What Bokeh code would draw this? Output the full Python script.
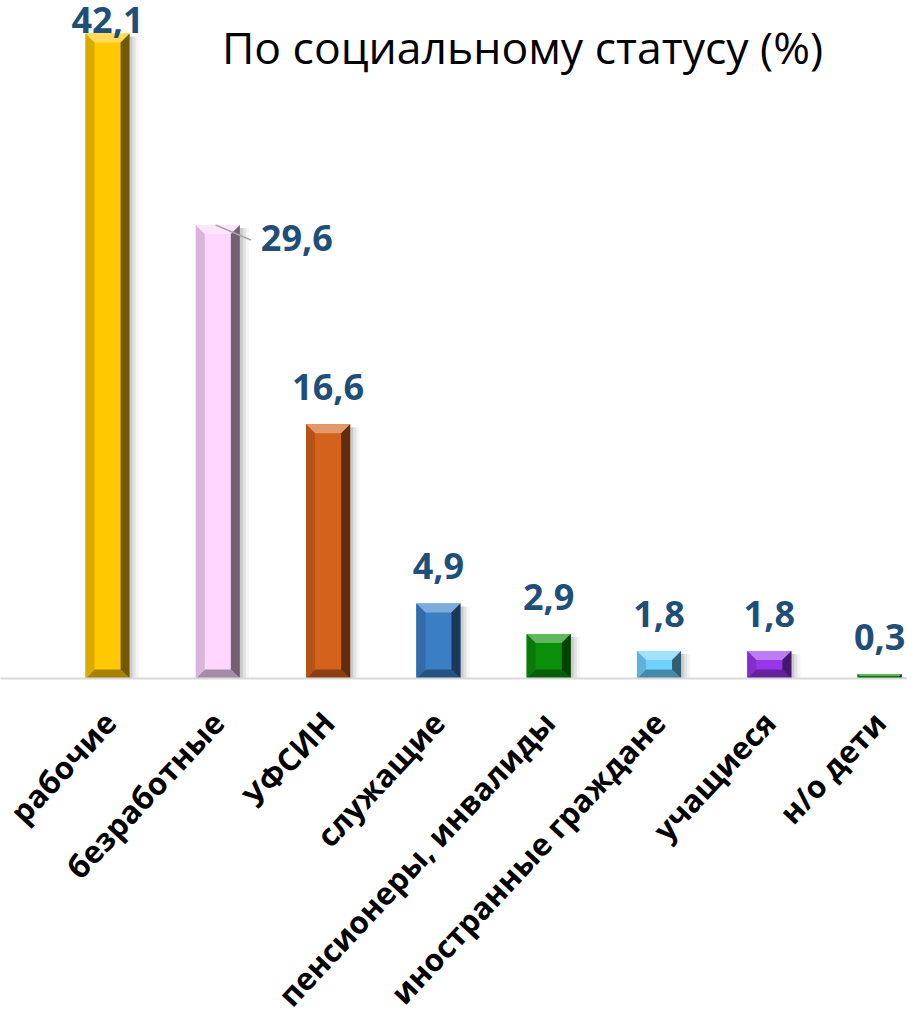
import math
from bokeh.plotting import figure
from bokeh.models import Range1d, FixedTicker
from bokeh.core.properties import value
from bokeh.embed import file_html
from bokeh.resources import INLINE

# ---- data ----
categories = ["рабочие", "безработные", "УФСИН", "служащие",
              "пенсионеры, инвалиды", "иностранные граждане", "учащиеся", "н/о дети"]
values = [42.1, 29.6, 16.6, 4.9, 2.9, 1.8, 1.8, 0.3]
value_labels = ["42,1", "29,6", "16,6", "4,9", "2,9", "1,8", "1,8", "0,3"]
title_text = "По социальному статусу (%)"

# ---- style ----
bar_colors = ["#FFC800", "#FFD6FF", "#D5621C", "#3A7EC6",
              "#0A900A", "#6ED2FF", "#9A35EE", "#0A900A"]
LABEL_COLOR = "#1F4E79"
FONT = "Open Sans"

W, FRAME_H = 907, 678
PX_X, PX_Y = 110.3, 15.32
X0 = 107  # px of first category centre
BAR_W = 0.4
BEVEL_PX = 9
LABEL_GAP = 37
BASE_SHIFT = 14  # compensation of the svg text baseline


def mix(hexc, other, t):
    a = [int(hexc[i:i + 2], 16) for i in (1, 3, 5)]
    b = [int(other[i:i + 2], 16) for i in (1, 3, 5)]
    c = [round(a[k] * (1 - t) + b[k] * t) for k in range(3)]
    return "#%02x%02x%02x" % tuple(c)


y_top = FRAME_H / PX_Y
p = figure(width=W, frame_width=W, frame_height=FRAME_H,
           x_range=Range1d(-X0 / PX_X, (W - X0) / PX_X),
           y_range=Range1d(0, y_top),
           output_backend="svg", toolbar_location=None,
           min_border_left=0, min_border_right=0, min_border_top=0, min_border_bottom=0)
p.outline_line_color = None
p.grid.visible = False
p.yaxis.visible = False
p.background_fill_color = "white"

n = len(values)
xs = list(range(n))

# soft shadows to the right of bars
for off, a in [(3, 0.20), (6, 0.13), (9, 0.07)]:
    p.vbar(x=[x + off / PX_X for x in xs], top=[max(v - 3 / PX_Y, 0) for v in values],
           bottom=0, width=BAR_W, fill_color="#707070", fill_alpha=a, line_color=None)

# main bars
p.vbar(x=xs, top=values, bottom=0, width=BAR_W,
       fill_color=bar_colors, line_color=None)

# bevel facets
pxs, pys, pcols = [], [], []
for x, v, c in zip(xs, values, bar_colors):
    l, r, t = x - BAR_W / 2, x + BAR_W / 2, v
    b = min(BEVEL_PX, v * PX_Y / 2)
    bx, by = b / PX_X, b / PX_Y
    light = mix(c, "#ffffff", 0.35)
    dark = mix(c, "#000000", 0.35)
    darker = mix(c, "#000000", 0.55)
    mid = mix(c, "#000000", 0.15)
    pxs += [[l, r, r - bx, l + bx], [l, r, r - bx, l + bx],
            [l, l, l + bx, l + bx], [r, r, r - bx, r - bx]]
    pys += [[t, t, t - by, t - by], [0, 0, by, by],
            [0, t, t - by, by], [0, t, t - by, by]]
    pcols += [light, dark, mid, darker]
p.patches(xs=pxs, ys=pys, fill_color=pcols, line_color=None)

# value labels above bars (pushed down when no room above)
in_idx = [i for i in range(n) if i != 1]
offs = [-min(LABEL_GAP, max(BASE_SHIFT, (y_top - values[i]) * PX_Y - 33 + BASE_SHIFT))
        for i in in_idx]
p.text(x=[xs[i] for i in in_idx], y=[values[i] for i in in_idx],
       text=[value_labels[i] for i in in_idx], y_offset=offs,
       text_align="center", text_baseline="alphabetic",
       text_font=value(FONT), text_font_style="bold", text_font_size="36px",
       text_color=LABEL_COLOR)

# label placed beside the second bar, with a leader line
p.segment(x0=[xs[1] - 0.02], y0=[values[1]],
          x1=[xs[1] + 0.30], y1=[values[1] - 15 / PX_Y],
          line_color="#A6A6A6", line_width=1.5)
p.text(x=[xs[1] + 0.39], y=[values[1]], text=[value_labels[1]], y_offset=27 - BASE_SHIFT,
       text_align="left", text_baseline="alphabetic",
       text_font=value(FONT), text_font_style="bold", text_font_size="36px",
       text_color=LABEL_COLOR)

# title
p.text(x=[(522 - X0) / PX_X], y=[(FRAME_H - 62) / PX_Y], text=[title_text],
       y_offset=-BASE_SHIFT - 2,
       text_align="center", text_baseline="alphabetic",
       text_font=value(FONT), text_font_size="44.5px", text_color="black")

# category axis
ax = p.xaxis[0]
ax.ticker = FixedTicker(ticks=xs)
ax.major_label_overrides = {i: c for i, c in enumerate(categories)}
ax.major_label_orientation = 0.82
ax.major_label_text_font = FONT
ax.major_label_text_font_style = "bold"
ax.major_label_text_font_size = "31px"
ax.major_label_text_color = "black"
ax.major_label_standoff = 32
ax.major_tick_line_color = None
ax.minor_tick_line_color = None
ax.axis_line_color = "#D9D9D9"
ax.axis_line_width = 2

open("out.html", "w").write(file_html(p, INLINE))
